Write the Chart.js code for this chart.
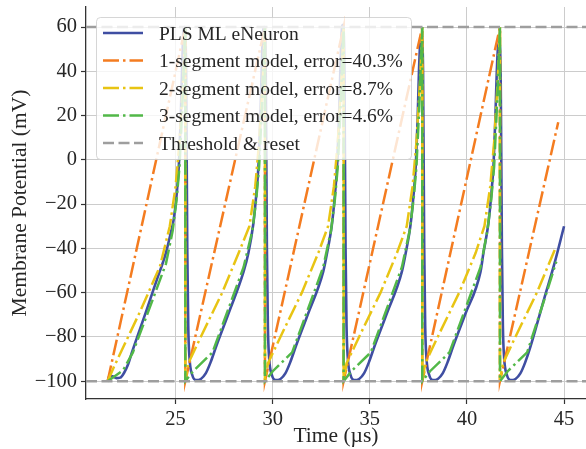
<!DOCTYPE html>
<html>
<head>
<meta charset="utf-8">
<title>Membrane potential traces</title>
<script src="https://cdn.jsdelivr.net/npm/chart.js@4.4.1/dist/chart.umd.min.js"></script>
<style>
  html, body { margin: 0; padding: 0; background: #fff; }
  #wrap { width: 586px; height: 449px; overflow: hidden; }
</style>
</head>
<body>
<div id="wrap"><canvas id="chart" width="586" height="449"></canvas></div>
<script>
/* values: [time (µs), potential (mV)] */
const eNeuron = [
  [21.5,-100],[21.6,-97.6],[21.75,-97.8],[21.95,-98.6],[22.15,-98.4],[22.35,-96.2],[22.55,-92.5],[22.75,-87],
  [23.5,-68],[24.0,-55],[24.5,-42],[24.75,-33],[24.9,-27],[25.05,-16],[25.17,-2],[25.26,18],[25.33,40],
  [25.4,58],[25.47,60],[25.54,40],[25.6,-40],[25.65,-75],[25.72,-90],[25.85,-97],[26.05,-99.5],[26.3,-99],
  [26.55,-96.5],[26.8,-91.5],[27.1,-84],[27.7,-70],[28.5,-50.5],[28.75,-42],[29.0,-29],[29.15,-16],
  [29.27,-2],[29.36,18],[29.43,40],[29.5,58],[29.57,60],[29.64,40],[29.7,-40],[29.75,-75],[29.82,-90],
  [29.95,-97],[30.15,-99.5],[30.4,-99],[30.65,-96.5],[30.9,-91.5],[31.2,-84],[31.8,-70],[32.6,-50.5],
  [32.8,-42],[33.05,-29],[33.2,-16],[33.32,-2],[33.41,18],[33.48,40],[33.55,58],[33.62,61],[33.69,40],
  [33.75,-40],[33.8,-75],[33.87,-90],[34.0,-97],[34.2,-99.5],[34.45,-99],[34.7,-96.5],[34.95,-91.5],
  [35.25,-84],[35.85,-70],[36.65,-50.5],[36.85,-42],[37.1,-29],[37.25,-16],[37.37,-2],[37.46,18],
  [37.53,40],[37.6,54],[37.67,56],[37.74,40],[37.8,-40],[37.85,-75],[37.92,-90],[38.05,-97],[38.25,-99.5],
  [38.5,-99],[38.75,-96.5],[39.0,-91.5],[39.3,-84],[39.9,-70],[40.7,-50.5],[40.85,-42],[41.1,-29],
  [41.25,-16],[41.37,-2],[41.46,18],[41.53,38],[41.6,51],[41.67,53],[41.74,35],[41.8,-40],[41.85,-75],
  [41.92,-90],[42.05,-97],[42.25,-99.5],[42.5,-99],[42.75,-96.5],[43.0,-91.5],[43.25,-85],[44.0,-62],
  [44.5,-47],[45.0,-30]
];
const oneSegment = [
  [21.5,-100],[25.5,60],[25.5,-100],[29.6,60],[29.6,-100],[33.65,60],[33.65,-100],
  [37.7,60],[37.7,-100],[41.7,60],[41.7,-100],[44.7,17]
];
const twoSegment = [
  [21.5,-100],[21.8,-94],[23.2,-68],[24.2,-48],[24.7,-30],[25.0,-12],[25.2,8],[25.38,35],[25.5,60],
  [25.5,-100],[25.65,-92],[26.35,-79],[27.4,-60],[28.25,-42],[28.8,-30],[29.1,-12],[29.3,8],[29.48,35],[29.6,60],
  [29.6,-100],[29.75,-92],[30.45,-79],[31.5,-60],[32.35,-42],[32.85,-30],[33.15,-12],[33.35,8],[33.53,35],[33.65,60],
  [33.65,-100],[33.8,-92],[34.5,-79],[35.55,-60],[36.4,-42],[36.9,-30],[37.2,-12],[37.4,8],[37.58,35],[37.7,60],
  [37.7,-100],[37.85,-92],[38.55,-79],[39.6,-60],[40.45,-42],[40.9,-30],[41.2,-12],[41.4,8],[41.58,35],[41.7,60],
  [41.7,-100],[41.85,-92],[42.55,-79],[43.6,-60],[44.6,-39]
];
const threeSegment = [
  [21.5,-100],[22.3,-95],[22.8,-87],[23.7,-66],[24.5,-47],[24.85,-32],[25.05,-18],[25.2,-3],[25.35,25],[25.5,60],
  [25.5,-100],[25.9,-95.5],[26.9,-87],[27.9,-63],[28.5,-48.5],[28.95,-32],[29.15,-18],[29.3,-3],[29.45,25],[29.6,60],
  [29.6,-100],[30.0,-95.5],[31.0,-87],[32.0,-63],[32.6,-48.5],[33.0,-32],[33.2,-18],[33.35,-3],[33.5,25],[33.65,60],
  [33.65,-100],[34.05,-95.5],[35.05,-87],[36.05,-63],[36.65,-48.5],[37.05,-32],[37.25,-18],[37.4,-3],[37.55,25],[37.7,60],
  [37.7,-100],[38.1,-95.5],[39.1,-87],[40.1,-63],[40.7,-48.5],[41.05,-32],[41.25,-18],[41.4,-3],[41.55,25],[41.7,60],
  [41.7,-100],[42.1,-95.5],[43.1,-87],[44.1,-60],[44.6,-46]
];
const thresholdLevels = [60, -100];

const seriesLabels = [
  'PLS ML eNeuron',
  '1-segment model, error=40.3%',
  '2-segment model, error=8.7%',
  '3-segment model, error=4.6%',
  'Threshold & reset'
];
const xTicks = [25, 30, 35, 40, 45];
const yTicks = [-100, -80, -60, -40, -20, 0, 20, 40, 60];
const xRange = [20.386, 46.13];
const yRange = [-108.05, 69.05];

const SERIF = "'Liberation Serif', 'DejaVu Serif', serif";
const TEXT = '#262626';
const DASHDOT = [16, 4, 2.5, 4];

function pts(arr){ return arr.map(p => ({x: p[0], y: p[1]})); }

// threshold + reset as one dataset, broken by a null
const thresholdPts = [];
thresholdLevels.forEach((lv, i) => {
  if (i > 0) thresholdPts.push({x: xRange[1], y: null});
  thresholdPts.push({x: xRange[0], y: lv}, {x: xRange[1], y: lv});
});

/* matplotlib-like legend box, drawn on top of the lines */
const boxLegend = {
  id: 'boxLegend',
  afterDraw(chart){
    const ctx = chart.ctx;
    ctx.save();
    ctx.beginPath();
    ctx.roundRect(96.5, 17.5, 315, 142, 4);
    ctx.fillStyle = 'rgba(255,255,255,0.8)';
    ctx.fill();
    ctx.strokeStyle = 'rgba(204,204,204,0.8)';
    ctx.lineWidth = 1;
    ctx.stroke();
    ctx.font = '19.5px ' + SERIF;
    ctx.textBaseline = 'alphabetic';
    chart.data.datasets.forEach((ds, i) => {
      const y = 33 + i * 27.5;
      ctx.setLineDash(ds.borderDash || []);
      ctx.lineCap = 'butt';
      ctx.strokeStyle = ds.borderColor;
      ctx.lineWidth = ds.borderWidth;
      ctx.beginPath(); ctx.moveTo(103, y); ctx.lineTo(143, y); ctx.stroke();
      ctx.setLineDash([]);
      ctx.fillStyle = TEXT;
      ctx.fillText(ds.label, 159, y + 6.5);
    });
    ctx.restore();
  }
};

const lineDefaults = { showLine: true, pointRadius: 0, pointHoverRadius: 0, fill: false };

// kill the label overhang padding chart.js adds, so the plot box is exact
function noPad(s){ s.paddingTop = 0; s.paddingBottom = 0; s.paddingLeft = 0; s.paddingRight = 0; }

new Chart(document.getElementById('chart').getContext('2d'), {
  type: 'scatter',
  data: {
    datasets: [
      { ...lineDefaults, label: seriesLabels[0], data: pts(eNeuron), borderColor: '#3f4ea2',
        borderWidth: 2.6, cubicInterpolationMode: 'monotone', borderJoinStyle: 'round', order: 5 },
      { ...lineDefaults, label: seriesLabels[1], data: pts(oneSegment), borderColor: '#f47c20',
        borderWidth: 2.5, borderDash: DASHDOT, tension: 0, order: 4 },
      { ...lineDefaults, label: seriesLabels[2], data: pts(twoSegment), borderColor: '#e8c413',
        borderWidth: 2.5, borderDash: DASHDOT, tension: 0, order: 3 },
      { ...lineDefaults, label: seriesLabels[3], data: pts(threeSegment), borderColor: '#52b848',
        borderWidth: 2.5, borderDash: DASHDOT, tension: 0, order: 2 },
      { ...lineDefaults, label: seriesLabels[4], data: thresholdPts, borderColor: '#9e9e9e',
        borderWidth: 2.5, borderDash: [11, 4.5], spanGaps: false, order: 1 }
    ]
  },
  options: {
    responsive: false,
    animation: false,
    events: [],
    layout: { padding: { left: 0, right: 0, top: 7, bottom: 0 } },
    plugins: { legend: { display: false }, tooltip: { enabled: false } },
    scales: {
      x: {
        type: 'linear', min: xRange[0], max: xRange[1],
        afterBuildTicks: s => { s.ticks = xTicks.map(v => ({value: v})); },
        afterFit: s => { s.height = 50; noPad(s); },
        ticks: { font: { family: SERIF, size: 20.5 }, color: TEXT, padding: 3 },
        grid: { color: '#cccccc', lineWidth: 1, tickColor: '#333', tickLength: 5, tickWidth: 1.2 },
        border: { color: '#333', width: 1.3 },
        title: { display: true, text: 'Time (µs)', font: { family: SERIF, size: 21.5 }, color: TEXT,
                 padding: { top: 0, bottom: 0 } }
      },
      y: {
        type: 'linear', min: yRange[0], max: yRange[1],
        afterBuildTicks: s => { s.ticks = yTicks.map(v => ({value: v})); },
        afterFit: s => { s.width = 86; noPad(s); },
        ticks: { font: { family: SERIF, size: 20.5 }, color: TEXT, padding: 4,
                 callback: v => String(v).replace('-', '\u2212') },
        grid: { color: '#cccccc', lineWidth: 1, tickColor: '#333', tickLength: 5, tickWidth: 1.2 },
        border: { color: '#333', width: 1.3 },
        title: { display: true, text: 'Membrane Potential (mV)', font: { family: SERIF, size: 21.5 },
                 color: TEXT, padding: { top: 7, bottom: 0 } }
      }
    }
  },
  plugins: [boxLegend]
});
</script>
</body>
</html>
